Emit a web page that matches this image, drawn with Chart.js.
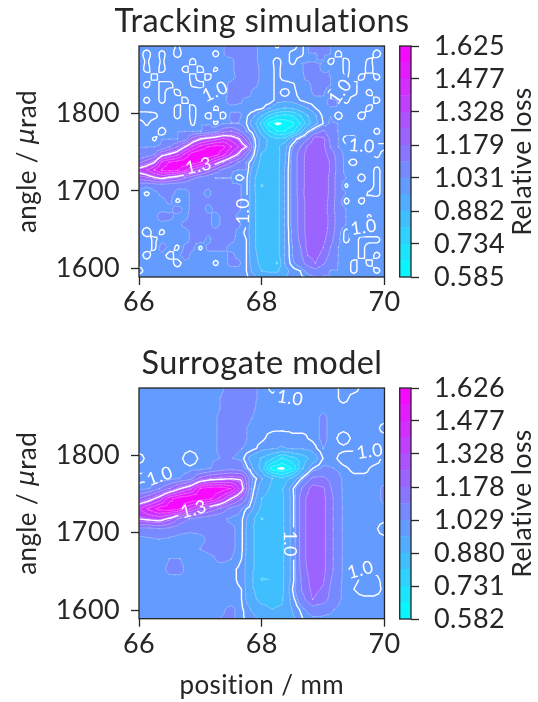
<!DOCTYPE html>
<html lang="en">
<head>
  <meta charset="UTF-8" />
  <title>Tracking simulations and surrogate model</title>
  <script src="https://cdn.jsdelivr.net/npm/chart.js"></script>
  <style>
    body { margin: 0; background: #fff; }
    #page { position: relative; width: 538px; height: 702px; overflow: hidden; }
    canvas { position: absolute; }
  </style>
</head>
<body>
<div id="page">
  <canvas id="map-top" width="524" height="330" style="left:0;top:0"></canvas>
  <canvas id="bar-top" width="148" height="330" style="left:390px;top:0"></canvas>
  <canvas id="map-bottom" width="524" height="360" style="left:0;top:342px"></canvas>
  <canvas id="bar-bottom" width="148" height="330" style="left:390px;top:342px"></canvas>
</div>

<script>
  // loss rows are relative loss x 100, first row is the top of the plot
  const positionsTop = [66,66.125,66.25,66.375,66.5,66.625,66.75,66.875,67,67.125,67.25,67.375,67.5,67.625,67.75,67.875,68,68.125,68.25,68.375,68.5,68.625,68.75,68.875,69,69.125,69.25,69.375,69.5,69.625,69.75,69.875,70];
  const anglesTop = [1887,1877,1867,1857,1847,1837,1827,1817,1807,1797,1787,1777,1767,1757,1747,1737,1727,1717,1707,1697,1687,1677,1667,1657,1647,1637,1627,1617,1607,1597,1589];
  const lossTop = [
    [103,103,103,103,103, 99,103,103,103,103,103,103,104,105,105,104,102,103, 99,103,103, 98,103,105,105,103,103,103,103,103,103,103,103],
    [103, 97,103, 98,103, 97,103,103,103,103, 98,103,104,105,106,104,102,103,103,103, 98, 98,103,103,104,103, 98,103,103,103,103, 97,103],
    [103, 99,103, 99,103,103,103, 98,103,103,103,103,102,105,106,104,102,103, 97,103, 98,103,103,103,103, 98,103, 98,103,103, 98,103,103],
    [103, 98,103, 98,103,103, 98,103, 98,103, 99,103,102,105,106,105,102,103, 98,103,103,102,105,105,102,103,103, 98,103,103, 97,103,103],
    [103,103, 98,103,103,103,103, 98,103, 98,103,103,102,104,105,105,102,103, 98,103,103,102,104,106,105,103,103, 99,103, 98,103, 98,103],
    [103, 98,103, 98, 98,103,103, 99, 98,103,103,102,104,105,105,104,102,103, 98, 97, 99,103,102,105,106,103,103,103, 98,103,103,103,103],
    [103,103,103, 98,103, 98,103,103,103, 98,103,102,104,105,105,102,102,103, 98,103, 98,102,102,104,104, 98, 98, 98, 98,103, 98,103,103],
    [103, 98,103, 98,103,103, 98,103,103,103,103,102,105,104,102,103,103,103, 98, 97, 98,100,102,102,102,104,103, 98,103,103,103, 98,103],
    [103,103,103,103,103, 98,103, 98,103,103, 99,102,102,102,103,103,101, 96, 91, 88, 89, 93, 96,100,103,103,103,103,103,103, 98,103,103],
    [ 97, 97, 98,103,103, 98,103, 98,103, 98,103, 98,104,104,101, 96, 88, 79, 73, 71, 73, 80, 88, 95,101,103, 97,103,103, 97,103,103,103],
    [103, 99,103,103,103,103,103, 99,103,103, 99,103,103,103,100, 91, 78, 63, 59, 61, 64, 73, 85, 94,100,104,103,103,103,103,103,103,103],
    [103,103,103, 97,103,103,103,103,103,104,108,115,118,112,103, 97, 85, 73, 66, 66, 70, 84, 99,106,112,104,103,103,103,103,103, 98,103],
    [103,103, 99,103,103,103,106,122,130,134,138,142,138,131,115,101, 93, 86, 82, 83, 95,104,110,122,120,108,103, 98, 98,103,103,103,103],
    [103,103,103,104,110,118,130,142,150,155,158,157,148,140,130,102, 92, 86, 86, 93,103,110,119,123,120,110,103,101, 98, 98,103, 98, 98],
    [103,106,110,126,132,138,150,160,162,162,158,150,138,128,112,100, 87, 85, 85, 94,105,114,121,123,121,115,106,101,103,103,103, 98,103],
    [115,122,130,150,156,158,160,160,155,145,135,126,118,110,103, 95, 85, 85, 85, 95,105,114,121,123,122,117,107,101, 98,103,103,103,103],
    [135,140,148,156,158,156,150,138,130,122,115,108,104,103,103, 91, 84, 84, 85, 96,105,114,121,123,122,117,107,101,103,103,103, 98,103],
    [122,124,129,133,128,124,118,112,108,105,103,103,103, 98,101, 89, 85, 85, 85, 96,105,114,121,124,122,116,106,103,103, 97,103, 98,103],
    [105,104,105,106,105,104,104,104,104,104,104,104,104,104,101, 89, 80, 85, 85, 96,105,114,121,124,122,116,106, 99,103,103,103, 98,103],
    [102, 99,102,104,105,102,102,104,104,102,105,104,104,104,101, 89, 85, 85, 85, 96,105,114,122,124,122,116,106,103,103,103, 99, 98,103],
    [102,102,102,102,104, 99,102,104,104,104,104,105,105,104,101, 89, 85, 85, 85, 96,105,113,121,124,122,115,106, 98,103, 98,103,103,103],
    [102,102,102,102,102,105,102,104,105,102,104,105,105,104,100, 89, 85, 85, 85, 96,105,113,121,123,121,115,105,103,103,103,103,103,103],
    [102,102,102,105,104,102,102,105,105,104,102,104,105,102,100, 89, 85, 85, 85, 96,105,113,121,123,121,116,106,103,103,103, 99,103,103],
    [102,102,102,102,102,102,104,105,104,104,102,104,105,104,100, 89, 85, 85, 85, 96,105,113,121,123,121,116,106,103,103,103,103,103,103],
    [102, 97,102, 99,102,102,102,104,105,104,104,105,105,102, 99, 89, 85, 85, 85, 96,104,113,121,123,121,115,105, 98,103,103,103,103,103],
    [102,102, 99,102,102,102,102,104,105,102,105,105,104,102,100, 89, 85, 85, 85, 96,104,112,120,122,120,113,104, 98,103, 98, 98, 98,103],
    [102,102, 99,105,102, 99,104,104, 99,104,104,104,102,102,100, 89, 85, 85, 85, 96,103,110,120,121,118,110,103,103,103, 98,103,103,103],
    [102, 98,102,102, 98,102,105,102,102,102,102,102,104,102,100, 90, 85, 85, 85, 96,103,108,118,120,116,108,103,103,103, 98,103, 98,103],
    [102,102,102,102,102, 98,102,102,102,102, 99,102,104,104,100, 91, 86, 85, 80, 96,102,106,114,118,112,105,103,103, 98,103, 98,103,103],
    [ 98,102,102,102,102,102,102,102,102,102,102,102,102,102,100, 93, 88, 87, 87, 93, 98,100,105,108,104,103,103,103, 98,103,103, 98,103],
    [102,102,102,102,102,102,102,102,102,102,102,102,102,102,101, 97, 93, 92, 92, 95, 98, 99,101,103,103,103,103,103,103,103,103,103,103]
  ];
  const levelsTop = [0.585,0.659,0.734,0.808,0.882,0.956,1.031,1.105,1.179,1.253,1.328,1.402,1.477,1.551,1.625];
  const barTicksTop = [0.585,0.734,0.882,1.031,1.179,1.328,1.477,1.625];
  const barLabelsTop = ['0.585','0.734','0.882','1.031','1.179','1.328','1.477','1.625'];
  // contour labels: position, angle, degrees of rotation, text
  const labelsTop = [
    [67.24,1828,-25,'1.0'], [66.97,1732,-12,'1.3'], [67.70,1674,-90,'1.0'],
    [69.28,1828,-55,'1.0'], [69.63,1758,5,'1.0'], [69.66,1653,-8,'1.0']
  ];

  const positionsBottom = [66,66.17,66.33,66.5,66.67,66.83,67,67.17,67.33,67.5,67.67,67.83,68,68.17,68.33,68.5,68.67,68.83,69,69.17,69.33,69.5,69.67,69.83,70];
  const anglesBottom = [1887,1874,1861,1848,1835,1822,1809,1796,1783,1770,1757,1744,1731,1718,1705,1692,1679,1666,1653,1640,1627,1614,1601,1589];
  const lossBottom = [
    [101,101,101,101,101,101,101,101,102,105,105,104,102, 99,101,101,101,101,101,101, 99, 99,101,101,101],
    [101,101,101,101,101,101,101,101,103,105,105,104,102,101,101,101,101,101,101,101, 99,101,101,101,101],
    [101,101,101,101,101,101,101,101,103,105,105,104,101,101,101,101,101,101,102,101,101,101,101,101,101],
    [101,101,101,101,101,101,101,101,104,105,105,103,101,101,101,101,101,101,104,101,101,101,101,101,101],
    [101,101,101,101,101,101,101,101,104,105,104,102,101,101,101,101,101,101,104,101,101,101,101,101, 99],
    [101,101,101,101,101,101,101,101,104,105,104,102,101, 98, 97, 99, 99,101,104,101, 98,101,101,101,101],
    [101,101,101,101,101,101,101,101,104,104,103,102, 98, 96, 95, 96, 96, 98,103,101,101,101,101,101,101],
    [ 99,101,101,101,101, 97,101,102,103,103,102, 93, 87, 81, 72, 78, 84, 91,100,101, 98, 97, 97, 98,101],
    [101,101,101,101,101,101,101,103,106,108,106, 97, 85, 62,58.5,66, 88,100,104,103,101, 99, 99,101,101],
    [ 99, 99, 99,101,103,107,120,126,128,130,128,104, 96, 88, 82, 90,102,112,112,107,102,101,101,101,101],
    [101,103,110,118,130,138,156,160,160,155,135,103, 92, 86, 87, 99,112,121,119,108,102,101,101,101,104],
    [118,125,135,153,160,162,160,156,145,130,118,101, 88, 85, 86, 98,116,122,120,110,102,101,101,101,104],
    [140,150,158,160,156,140,130,122,116,108,103, 97, 86, 85, 86, 98,116,122,120,110,102,101,101,101,102],
    [130,133,135,128,115,110,107,105,104,102,101, 91, 80, 85, 86, 98,116,122,120,110,102,101,101,101,101],
    [108,108,110,108,105,104,104,104,104,104,101, 89, 85, 85, 86, 98,116,122,120,110,102,101,101,101, 98],
    [101,102,103,102,101,101,102,104,104,104,101, 89, 85, 85, 86, 98,116,122,120,110,102,101,101,101,101],
    [101,101,101,101,101,101,103,104,104,104,101, 89, 85, 85, 86, 98,116,122,120,110,102,101,101,101,101],
    [101,101,101,103,103,101,101,102,104,103,100, 89, 85, 85, 86, 98,116,122,120,110,102,101,101,101,101],
    [101,101,101,104,104,101,101,101,101,101, 99, 89, 85, 85, 86, 98,115,122,120,110,102,101, 99,101,101],
    [101,101,101,102,102,101,101,101,101,101, 99, 89, 80, 81, 86, 98,113,121,119,108,102,101, 99, 99,101],
    [101,101,101,101,101,101,101,101,101,101,100, 89, 85, 85, 86,100,112,120,117,106,102,100, 98, 98,101],
    [101,101,101,101,101,101,101,101,101,101,100, 90, 86, 86, 87, 98,108,118,114,106,102,101,101,101,101],
    [101,101,101,101,101,101,101,101,102,104,101, 95, 90, 88, 89, 96,102,106,105,103,101,101,101,101,101],
    [101,101,101,101,101,101,101,101,103,104,101, 98, 94, 92, 92, 94,100,102,102,102,101,101,101,101,101]
  ];
  const levelsBottom = [0.582,0.657,0.731,0.806,0.880,0.955,1.029,1.104,1.178,1.253,1.328,1.402,1.477,1.551,1.626];
  const barTicksBottom = [0.582,0.731,0.880,1.029,1.178,1.328,1.477,1.626];
  const barLabelsBottom = ['0.582','0.731','0.880','1.029','1.178','1.328','1.477','1.626'];
  const labelsBottom = [
    [68.46,1874,8,'1.0'], [66.34,1773,-20,'1.0'], [66.89,1730,-15,'1.3'],
    [68.46,1686,90,'1.0'], [69.76,1805,-8,'1.0'], [69.61,1652,-15,'1.0']
  ];

  const positionTicks = [66,68,70];
  const angleTicks = [1600,1700,1800];
  const heavyLevels = [0.6,1.0,1.3];

  const fontName = 'Lato';
  const ink = '#262626';
  Chart.defaults.font.family = fontName;
  Chart.defaults.color = ink;

  function coolColor(t) {
    return 'rgb(' + Math.round(255 * t) + ',' + Math.round(255 * (1 - t)) + ',255)';
  }

  // the triangles of every grid cell, as [px, py, value] corners
  function cellTriangles(chart, xs, ys, rows) {
    const sx = chart.scales.x, sy = chart.scales.y;
    const out = [];
    for (let j = 0; j < ys.length - 1; j++) {
      for (let i = 0; i < xs.length - 1; i++) {
        const a = [sx.getPixelForValue(xs[i]), sy.getPixelForValue(ys[j]), rows[j][i] / 100];
        const b = [sx.getPixelForValue(xs[i + 1]), a[1], rows[j][i + 1] / 100];
        const c = [b[0], sy.getPixelForValue(ys[j + 1]), rows[j + 1][i + 1] / 100];
        const d = [a[0], c[1], rows[j + 1][i] / 100];
        const m = [(a[0] + b[0]) / 2, (a[1] + c[1]) / 2, (a[2] + b[2] + c[2] + d[2]) / 4];
        out.push([a, b, m], [b, c, m], [c, d, m], [d, a, m]);
      }
    }
    return out;
  }

  function crossing(p, q, level) {
    const f = (level - p[2]) / (q[2] - p[2]);
    return [p[0] + f * (q[0] - p[0]), p[1] + f * (q[1] - p[1]), level];
  }

  const contourPlugin = {
    id: 'contour',
    beforeDatasetsDraw(chart, args, o) {
      const ctx = chart.ctx, area = chart.chartArea;
      const tris = cellTriangles(chart, o.xs, o.ys, o.rows);
      ctx.save();
      ctx.beginPath();
      ctx.rect(area.left, area.top, area.right - area.left, area.bottom - area.top);
      ctx.clip();

      // filled bands, low to high, each one painted over the one before
      for (let k = 0; k < o.levels.length - 1; k++) {
        const level = k === 0 ? -Infinity : o.levels[k];
        ctx.beginPath();
        tris.forEach(t => {
          const poly = [];
          for (let n = 0; n < 3; n++) {
            const p = t[n], q = t[(n + 1) % 3];
            if (p[2] >= level) poly.push(p);
            if ((p[2] >= level) !== (q[2] >= level)) poly.push(crossing(p, q, level));
          }
          poly.forEach((p, n) => n ? ctx.lineTo(p[0], p[1]) : ctx.moveTo(p[0], p[1]));
          if (poly.length) ctx.closePath();
        });
        ctx.fillStyle = coolColor((k + 0.5) / (o.levels.length - 1));
        ctx.fill();
      }

      function strokeLevel(level) {
        ctx.beginPath();
        tris.forEach(t => {
          const pts = [];
          for (let n = 0; n < 3; n++) {
            const p = t[n], q = t[(n + 1) % 3];
            if ((p[2] >= level) !== (q[2] >= level)) pts.push(crossing(p, q, level));
          }
          if (pts.length === 2) {
            ctx.moveTo(pts[0][0], pts[0][1]);
            ctx.lineTo(pts[1][0], pts[1][1]);
          }
        });
        ctx.stroke();
      }

      ctx.lineCap = 'round';
      ctx.strokeStyle = 'rgba(255,255,255,0.35)';
      ctx.lineWidth = 0.7;
      o.levels.slice(1, -1).forEach(strokeLevel);

      // heavy lines, with a gap cut out where a label sits
      ctx.font = '18px ' + fontName;
      ctx.textAlign = 'center';
      ctx.textBaseline = 'middle';
      const place = o.labels.map(l => ({
        x: chart.scales.x.getPixelForValue(l[0]),
        y: chart.scales.y.getPixelForValue(l[1]),
        a: l[2] * Math.PI / 180,
        text: l[3]
      }));
      ctx.save();
      ctx.beginPath();
      ctx.rect(0, 0, chart.width, chart.height);
      place.forEach(l => {
        const w = ctx.measureText(l.text).width / 2 + 3, h = 9;
        const cos = Math.cos(l.a), sin = Math.sin(l.a);
        [[-w, -h], [w, -h], [w, h], [-w, h]].forEach((c, n) => {
          const px = l.x + c[0] * cos - c[1] * sin, py = l.y + c[0] * sin + c[1] * cos;
          n ? ctx.lineTo(px, py) : ctx.moveTo(px, py);
        });
        ctx.closePath();
      });
      ctx.clip('evenodd');
      ctx.strokeStyle = '#fff';
      ctx.lineWidth = 1.4;
      heavyLevels.forEach(strokeLevel);
      ctx.restore();

      ctx.fillStyle = '#fff';
      place.forEach(l => {
        ctx.save();
        ctx.translate(l.x, l.y);
        ctx.rotate(l.a);
        ctx.fillText(l.text, 0, 0);
        ctx.restore();
      });
      ctx.restore();
    }
  };

  // box round the axes, and rotated side labels reading upwards
  const framePlugin = {
    id: 'frame',
    beforeDraw(chart) {
      chart.ctx.letterSpacing = '0.4px';
    },
    afterDraw(chart, args, o) {
      const ctx = chart.ctx, area = chart.chartArea;
      ctx.save();
      ctx.strokeStyle = ink;
      ctx.lineWidth = 1.3;
      ctx.strokeRect(area.left, area.top, area.right - area.left, area.bottom - area.top);
      ctx.translate(o.x, (area.top + area.bottom) / 2);
      ctx.rotate(-Math.PI / 2);
      ctx.fillStyle = ink;
      ctx.textBaseline = 'middle';
      ctx.textAlign = 'left';
      const parts = o.parts;
      let width = 0;
      parts.forEach(p => { ctx.font = p[1]; width += ctx.measureText(p[0]).width; });
      let at = -width / 2;
      parts.forEach(p => {
        ctx.font = p[1];
        ctx.fillText(p[0], at, 0);
        at += ctx.measureText(p[0]).width;
      });
      ctx.restore();
    }
  };

  function drawMap(id, title, xs, ys, rows, levels, labels, areaBottom, xTitle) {
    const points = [];
    ys.forEach((y, j) => xs.forEach((x, i) => points.push({ x: x, y: y, v: rows[j][i] })));
    return new Chart(document.getElementById(id), {
      type: 'scatter',
      data: { datasets: [{ data: points, pointRadius: 0 }] },
      plugins: [contourPlugin, framePlugin],
      options: {
        responsive: false,
        animation: false,
        plugins: {
          legend: { display: false },
          tooltip: { enabled: false },
          title: {
            display: true, text: title, color: ink,
            font: { size: 32.5, weight: 'normal' },
            padding: { top: 2, bottom: 5 }
          },
          contour: { xs: xs, ys: ys, rows: rows, levels: levels, labels: labels },
          frame: { x: 28, parts: [['angle / ', '26px ' + fontName], ['\u03bc', 'italic 24.5px "DejaVu Sans"'], ['rad', '26px ' + fontName]] }
        },
        scales: {
          x: {
            type: 'linear', min: 66, max: 70,
            afterBuildTicks: axis => { axis.ticks = positionTicks.map(v => ({ value: v })); },
            afterFit: axis => { axis.height = axis.chart.height - areaBottom; },
            grid: { drawOnChartArea: false, tickColor: ink, tickWidth: 1.3, tickLength: 8 },
            border: { display: false },
            ticks: { color: ink, font: { size: 27 }, padding: 1, maxRotation: 0, autoSkip: false, callback: v => String(v) },
            title: { display: !!xTitle, text: xTitle, color: ink, font: { size: 26 }, padding: { top: 0, bottom: 1 } }
          },
          y: {
            type: 'linear', min: 1589, max: 1887,
            afterBuildTicks: axis => { axis.ticks = angleTicks.map(v => ({ value: v })); },
            afterFit: axis => { axis.width = 139; },
            grid: { drawOnChartArea: false, tickColor: ink, tickWidth: 1.3, tickLength: 8 },
            border: { display: false },
            ticks: { color: ink, font: { size: 27 }, padding: 11, autoSkip: false, callback: v => String(v) }
          },
          // empty axis that holds the room for the colour bar, so the title stays centred
          spare: {
            type: 'linear', axis: 'y', position: 'right',
            afterFit: axis => { axis.width = 139.5; },
            grid: { display: false },
            border: { display: false },
            ticks: { display: false }
          }
        }
      }
    });
  }

  function drawBar(id, levels, ticks, tickLabels) {
    const bands = levels.slice(0, -1).map((lo, k) => ({
      data: [[lo, levels[k + 1]]],
      backgroundColor: coolColor((k + 0.5) / (levels.length - 1)),
      barPercentage: 1,
      categoryPercentage: 1
    }));
    return new Chart(document.getElementById(id), {
      type: 'bar',
      data: { labels: ['Relative loss'], datasets: bands },
      plugins: [framePlugin],
      options: {
        responsive: false,
        animation: false,
        layout: { padding: { left: 9.7, top: 46, bottom: 53 } },
        plugins: {
          legend: { display: false },
          tooltip: { enabled: false },
          frame: { x: 132, parts: [['Relative loss', '26.5px ' + fontName]] }
        },
        scales: {
          x: { display: false, stacked: true },
          y: {
            position: 'right',
            min: levels[0],
            max: levels[levels.length - 1],
            afterBuildTicks: axis => { axis.ticks = ticks.map(v => ({ value: v })); },
            afterFit: axis => { axis.width = 127; },
            grid: { drawOnChartArea: false, tickColor: ink, tickWidth: 1.3, tickLength: 8 },
            border: { display: false },
            ticks: { color: ink, font: { size: 27 }, padding: 15, autoSkip: false, callback: (v, i) => tickLabels[i] }
          }
        }
      }
    });
  }

  drawMap('map-top', 'Tracking simulations', positionsTop, anglesTop, lossTop, levelsTop, labelsTop, 277, '');
  drawBar('bar-top', levelsTop, barTicksTop, barLabelsTop);
  drawMap('map-bottom', 'Surrogate model', positionsBottom, anglesBottom, lossBottom, levelsBottom, labelsBottom, 276.7, 'position / mm');
  drawBar('bar-bottom', levelsBottom, barTicksBottom, barLabelsBottom);
</script>
</body>
</html>
